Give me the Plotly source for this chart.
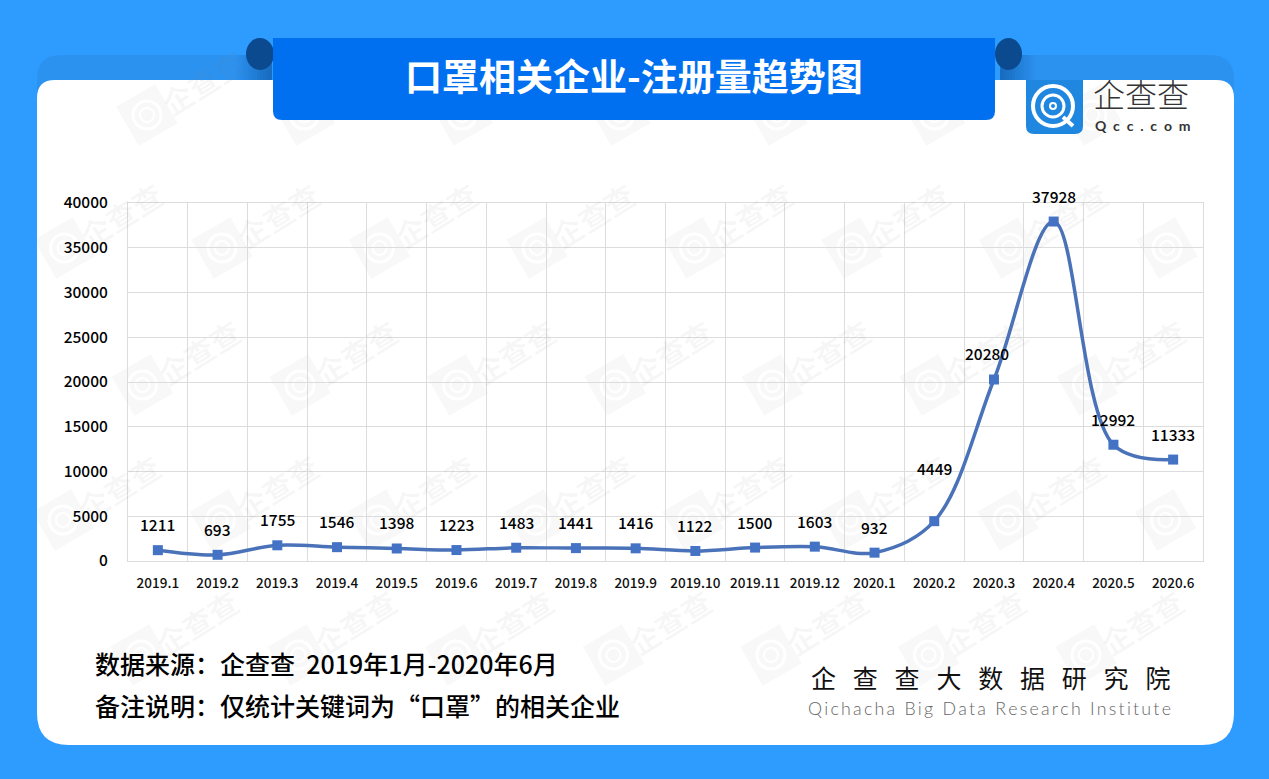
import math
import plotly.graph_objects as go

W = 1269
H = 779

months = ['2019.1', '2019.2', '2019.3', '2019.4', '2019.5', '2019.6', '2019.7', '2019.8', '2019.9',
          '2019.10', '2019.11', '2019.12', '2020.1', '2020.2', '2020.3', '2020.4', '2020.5', '2020.6']
counts = [1211, 693, 1755, 1546, 1398, 1223, 1483, 1441, 1416,
          1122, 1500, 1603, 932, 4449, 20280, 37928, 12992, 11333]
y_ticks = [0, 5000, 10000, 15000, 20000, 25000, 30000, 35000, 40000]

title = '口罩相关企业-注册量趋势图'
source = '数据来源：企查查  2019年1月-2020年6月'
note = '备注说明：仅统计关键词为“口罩”的相关企业'
institute = '企   查   查   大   数   据   研   究   院'
institute_en = 'Qichacha Big Data Research Institute'

CJK = 'Noto Sans CJK SC'
BG = '#2e9bff'
BAND = '#0070f0'
LINE = '#4a72b8'
MARK = '#4472c4'
GRID = '#dcdcdc'
MARKW = '#f8f8f8'


def px(x):
    return x / W


def py(y):
    return 1 - y / H


def path(points):
    # pixel coords -> paper coords svg path
    out = []
    for p in points:
        if len(p) == 1:
            out.append(p[0])
        else:
            out.append('%.5f,%.5f' % (px(p[0]), py(p[1])))
    return ' '.join(out)


def rrect(x0, y0, x1, y1, rt, rb):
    # rounded rectangle, rt top radius, rb bottom radius
    return path([
        ('M',), (x0 + rt, y0), ('L',), (x1 - rt, y0),
        ('Q',), (x1, y0), (x1, y0 + rt), ('L',), (x1, y1 - rb),
        ('Q',), (x1, y1), (x1 - rb, y1), ('L',), (x0 + rb, y1),
        ('Q',), (x0, y1), (x0, y1 - rb), ('L',), (x0, y0 + rt),
        ('Q',), (x0, y0), (x0 + rt, y0), ('Z',),
    ])


def box(x0, y0, x1, y1, color, opacity=1.0):
    return dict(type='rect', xref='paper', yref='paper', x0=px(x0), x1=px(x1), y0=py(y0), y1=py(y1),
                fillcolor=color, opacity=opacity, line_width=0, layer='below')


def blob(d, color):
    return dict(type='path', xref='paper', yref='paper', path=d, fillcolor=color, line_width=0, layer='below')


def ring(cx, cy, r, color, width):
    return dict(type='circle', xref='paper', yref='paper', x0=px(cx - r), x1=px(cx + r),
                y0=py(cy + r), y1=py(cy - r), line=dict(color=color, width=width),
                fillcolor='rgba(0,0,0,0)', layer='below')


def tilted_square(cx, cy, half):
    pts = []
    for k in range(4):
        a = math.radians(15 + 90 * k)
        pts.append((cx + half * 1.41 * math.cos(a), cy + half * 1.41 * math.sin(a)))
    return dict(type='path', xref='paper', yref='paper', fillcolor=MARKW, layer='below',
                line=dict(color=MARKW, width=7),
                path=path([('M',), pts[0], ('L',), pts[1], ('L',), pts[2], ('L',), pts[3], ('Z',)]))


def label(x, y, text, size, color='#000000', anchor='center', family=CJK, weight=400, angle=0):
    return dict(xref='paper', yref='paper', x=px(x), y=py(y), text=text, showarrow=False,
                xanchor=anchor, yanchor='middle', textangle=angle,
                font=dict(family=family, size=size, color=color, weight=weight))


shapes = []
annotations = []

# tab shadow behind the card
shapes.append(blob(rrect(37, 55, 272, 110, 24, 0), '#2c92f0'))
shapes.append(blob(rrect(1000, 55, 1234, 110, 24, 0), '#2c92f0'))
for i in range(12):
    shapes.append(box(236 + i * 3, 55, 239 + i * 3, 80, '#0a4f9a', 0.03 + i * 0.05))
    shapes.append(box(1000 + i * 3, 55, 1003 + i * 3, 80, '#0a4f9a', 0.58 - i * 0.05))
# card
shapes.append(blob(rrect(37, 80, 1234, 745, 18, 32), '#ffffff'))

# watermark rows
for row, y_mark in enumerate([115, 248, 385, 520, 655]):
    start = [147, 64.5, 142.5, 63, 141][row]
    for col in range(8):
        x_mark = start + col * 157.5
        if x_mark > 1215:
            continue
        shapes.append(tilted_square(x_mark, y_mark, 19))
        shapes.append(ring(x_mark, y_mark, 14, '#ffffff', 3))
        shapes.append(ring(x_mark, y_mark, 7, '#ffffff', 2))
        if row == 0 and col > 0:
            continue  # these fall under the title band
        if x_mark + 96 > 1234:
            continue  # would run off the card
        annotations.append(label(x_mark + 56, y_mark - 33, '企查查', 30, 'rgba(120,120,120,0.06)',
                                 weight=700, angle=-32))
# watermarks stop at the card edge
shapes.append(box(0, 80, 37, 779, BG))
shapes.append(box(1234, 80, 1269, 779, BG))

# title band and folds
shapes.append(dict(type='circle', xref='paper', yref='paper', x0=px(246), x1=px(274), y0=py(70), y1=py(38),
                   fillcolor='#0b4a8f', line_width=0, layer='below'))
shapes.append(dict(type='circle', xref='paper', yref='paper', x0=px(995), x1=px(1022), y0=py(70), y1=py(38),
                   fillcolor='#0b4a8f', line_width=0, layer='below'))
shapes.append(blob(rrect(273, 38, 995, 120, 0, 9), BAND))
# logo
shapes.append(blob(rrect(1026, 80, 1083, 134, 0, 8), '#1f87e0'))
shapes.append(ring(1053, 106, 20, '#ffffff', 4))
shapes.append(ring(1053, 106, 11, '#ffffff', 3))
shapes.append(ring(1053, 106, 3, '#ffffff', 2))
shapes.append(dict(type='line', xref='paper', yref='paper', x0=px(1063), x1=px(1073), y0=py(117), y1=py(126),
                   line=dict(color='#ffffff', width=4), layer='below'))

# value labels, lifted above the markers
# x is the category index here: '2019.1' would be read as the number 2019.1
shift_up = {'2020.2': 53}
shift_side = {'2020.3': -7}
for i, (m, c) in enumerate(zip(months, counts)):
    annotations.append(dict(xref='x', yref='y', x=i, y=c, text=str(c), showarrow=False,
                            yshift=shift_up.get(m, 26), xshift=shift_side.get(m, 0), yanchor='middle',
                            font=dict(family=CJK, size=15.5, color='#000000', weight=500)))

annotations += [
    label(634, 75, title, 37, '#ffffff', weight=700),
    label(1141, 93, '企查查', 32, '#333333', weight=300),
    label(1142, 126, 'Q  c  c  .  c  o  m', 14, '#333333', family='Lato', weight=700),
    label(93, 663, source, 25, anchor='left', weight=500),
    label(93, 705, note, 25, anchor='left', weight=500),
    label(990, 677, institute, 25, '#111111', weight=400),
    label(989, 708, '\u200a\u200a'.join(institute_en), 17.8, '#666666', family='Lato', weight=300),
]

fig = go.Figure()
fig.add_trace(go.Scatter(
    x=months,
    y=counts,
    mode='lines+markers',
    line=dict(color=LINE, width=3.5, shape='spline', smoothing=1.0),
    marker=dict(color=MARK, size=10, symbol='square'),
    cliponaxis=False,
    hoverinfo='x+y',
))

fig.update_layout(
    width=W,
    height=H,
    margin=dict(l=0, r=0, t=0, b=0, pad=0),
    paper_bgcolor=BG,
    plot_bgcolor='rgba(0,0,0,0)',
    showlegend=False,
    shapes=shapes,
    annotations=annotations,
    xaxis=dict(
        domain=[px(128), px(1203)],
        automargin=False,
        type='category',
        categoryorder='array',
        categoryarray=months,
        range=[-0.5, 17.5],
        tickson='boundaries',
        ticks='',
        showgrid=True,
        gridcolor=GRID,
        gridwidth=1,
        showline=True,
        linecolor=GRID,
        linewidth=1,
        mirror=True,
        tickangle=0,
        ticklabelstandoff=10,
        tickfont=dict(family=CJK, size=13.5, color='#111111', weight=500),
    ),
    yaxis=dict(
        domain=[py(561), py(203)],
        automargin=False,
        range=[0, 40000],
        tickmode='array',
        tickvals=y_ticks,
        ticktext=[str(v) for v in y_ticks],
        showgrid=True,
        gridcolor=GRID,
        gridwidth=1,
        zeroline=False,
        showline=True,
        linecolor=GRID,
        linewidth=1,
        mirror=True,
        ticks='',
        ticklabelstandoff=16,
        tickfont=dict(family=CJK, size=15.5, color='#000000', weight=500),
    ),
)

fig.write_html("out.html", config={'displayModeBar': False}, post_script="document.body.style.margin='0';")
